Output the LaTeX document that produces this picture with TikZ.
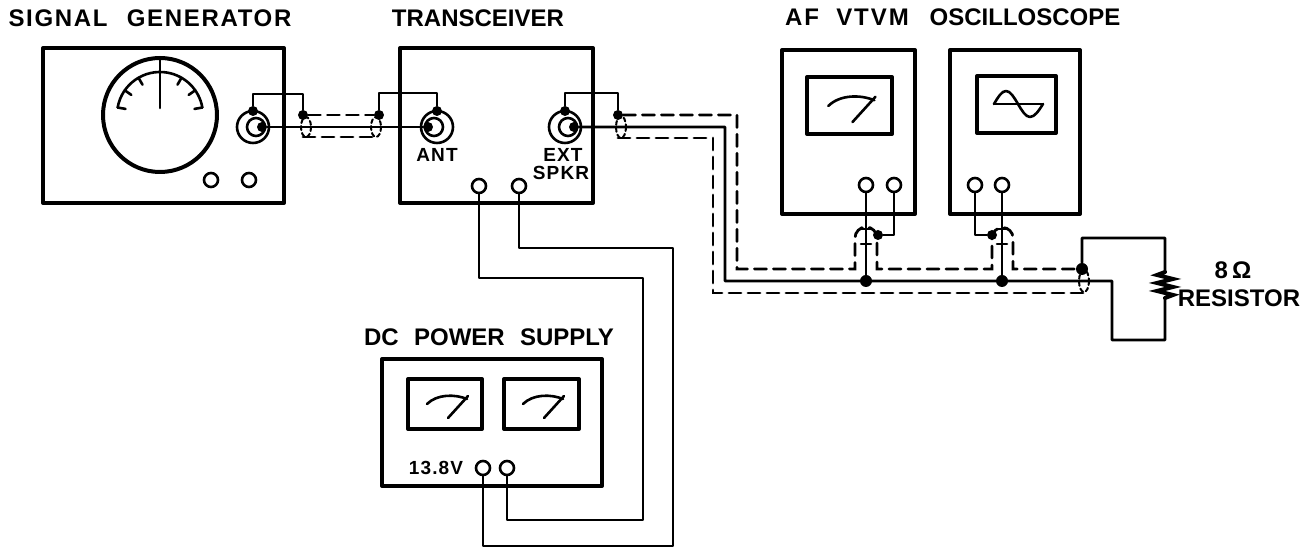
\documentclass[tikz,border=0pt]{standalone}
\usepackage{fontspec}
\setmainfont{Liberation Sans}
\newfontfamily\titlefont{Liberation Sans}[WordSpace=2.3]
\newfontfamily\widefont{Liberation Sans}[WordSpace=2.0, LetterSpace=8]
\newfontfamily\sgfont{Liberation Sans}[WordSpace=2.3, LetterSpace=7]
\newfontfamily\smallfont{Liberation Sans}[LetterSpace=6]
\usepackage{tikz}
\usetikzlibrary{calc}
\tikzset{
  unit/.style={line width=2pt, line join=round},
  wire/.style={line width=1.3pt, line join=round},
  shield/.style={line width=1.4pt, dash pattern=on 6pt off 3.5pt},
  coaxend/.style={line width=1pt, dash pattern=on 2pt off 1.5pt},
  term/.style={circle, draw, line width=1.3pt, minimum size=7pt, inner sep=0pt},
  dot/.style={circle, fill, minimum size=5pt, inner sep=0pt},
  title/.style={font=\fontsize{12}{14}\titlefont\bfseries, inner sep=0pt},
  small/.style={font=\fontsize{9.5}{11}\smallfont\bfseries, inner sep=0pt}
}
\newcommand{\CoaxJack}[3]{%
  % #1 = name, #2 = centre, #3 = 1 (pin right) or -1 (pin left)
  \draw[wire] (#2) circle[radius=16];
  \draw[wire] ($(#2)+({#3*3},0)$) circle[radius=9];
  \node[dot] (#1Pin) at ($(#2)+({#3*9},0)$) {};
  \node[dot] (#1Gnd) at ($(#2)+(0,-16)$) {};
}
\newcommand{\MeterFace}[2][1]{%
  % #1 = scale, #2 = centre of the window
  \begin{scope}[shift={(#2)}, scale=#1]
    \draw[wire] (-18,0) .. controls (-8,-10) and (10,-10) .. (22,-5);
    \draw[wire] (3,14) -- (23,-8);
  \end{scope}
}
\begin{document}
\begin{tikzpicture}[x=0.5pt, y=-0.5pt, line cap=round]
  \useasboundingbox (0,0) rectangle (1314,549);

  % signal generator
  \draw[unit] (43,48) rectangle (284,203);
  \draw[unit] (160,115) circle[radius=57];
  \draw[wire] ($(160,115)+(190:43)$) arc[start angle=190, end angle=350, radius=43];
  \foreach \a in {190,215,240,300,325,350}
    \draw[wire] ($(160,115)+(\a:43)$) -- ($(160,115)+(\a:35)$);
  \draw[wire] (160,58) -- (160,108);
  \node[term] (sgK1) at (211,180) {};
  \node[term] (sgK2) at (249,180) {};
  \coordinate (sgJack) at (253,127);
  \CoaxJack{sg}{sgJack}{1}

  % transceiver
  \draw[unit] (400,48) rectangle (593,203);
  \coordinate (antJack) at (437,127);
  \coordinate (spkJack) at (565,127);
  \CoaxJack{ant}{antJack}{-1}
  \CoaxJack{spk}{spkJack}{1}
  \node[term] (xcvT1) at (479,186) {};
  \node[term] (xcvT2) at (519,186) {};

  % dc power supply
  \draw[unit] (382,359) rectangle (602,486);
  \draw[unit] (408,379) rectangle (482,429);
  \draw[unit] (504,379) rectangle (579,429);
  \MeterFace{445,404}
  \MeterFace{541,404}
  \node[term] (psuT1) at (483,468) {};
  \node[term] (psuT2) at (507,468) {};

  % af vtvm
  \draw[unit] (782,50) rectangle (915,214);
  \draw[unit] (807,77) rectangle (892,134);
  \MeterFace[1.15]{849,106}
  \node[term] (vtT1) at (866,185) {};
  \node[term] (vtT2) at (894,185) {};

  % oscilloscope
  \draw[unit] (950,50) rectangle (1080,214);
  \draw[unit] (977,76) rectangle (1056,133);
  \draw[wire] (994,104) -- (1043,104);
  \draw[wire] (994,104) sin (1006,91) cos (1018,104) sin (1030,117) cos (1043,104);
  \node[term] (scT1) at (975,185) {};
  \node[term] (scT2) at (1002,185) {};

  % shield taps and junctions
  \node[dot] (sgShd) at (303,115) {};
  \node[dot] (antShd) at (379,115) {};
  \node[dot] (spkShd) at (618,115) {};
  \node[dot] (vtShd) at (878,235) {};
  \node[dot] (scShd) at (992,235) {};
  \node[dot, minimum size=6pt] (vtJn) at (866,281) {};
  \node[dot, minimum size=6pt] (scJn) at (1002,281) {};
  \node[dot, minimum size=6pt] (rShd) at (1082,269) {};

  % rf cable
  \draw[wire] (sgGnd) -- ++(0,-17) -| (sgShd);
  \draw[wire] (antGnd) -- ++(0,-18) -| (antShd);
  \draw[wire] (sgPin) -- (antPin);
  \draw[shield] (sgShd) -- (antShd);
  \draw[shield] (303,137) -- (379,137);
  \draw[coaxend] (306,127) ellipse[x radius=5, y radius=10];
  \draw[coaxend] (376,127) ellipse[x radius=5, y radius=10];

  % audio cable
  \draw[wire] (spkGnd) -- ++(0,-18) -| (spkShd);
  \coordinate (rBot) at (1165,340);
  \coordinate (rTop) at (1165,238);
  \draw[wire] (spkPin) -- (725,127) -- (725,281) -- (1112,281) -- (1112,340) -- (rBot)
    -- (1165,298) -- (1173,295) -- (1157,291) -- (1173,287) -- (1157,283)
    -- (1173,279) -- (1157,275) -- (1165,272) -- (rTop) -- (1082,238) -- (rShd);
  \draw[line width=2pt] (1165,298) -- (1173,295) -- (1157,291) -- (1173,287) -- (1157,283)
    -- (1173,279) -- (1157,275) -- (1165,272);
  \draw[shield] (spkShd) -- (737,115) -- (737,269) -- (855,269) -- (855,238)
    arc[start angle=180, end angle=360, radius=11] -- (877,269) -- (992,269) -- (992,238)
    arc[start angle=180, end angle=360, radius=10.5] -- (1013,269) -- (rShd);
  \draw[shield] (618,138) -- (713,138) -- (713,293) -- (1086,293);
  \draw[coaxend] (621,127) ellipse[x radius=5, y radius=11];
  \draw[coaxend] (1084,281) ellipse[x radius=5, y radius=11];
  \draw[wire] (861,229) -- (871,229) (861,244) -- (871,244);
  \draw[wire] (997,229) -- (1007,229) (997,244) -- (1007,244);

  % meter leads
  \draw[wire] (vtT1.south) -- (vtJn);
  \draw[wire] (vtT2.south) |- (vtShd);
  \draw[wire] (scT1.south) |- (scShd);
  \draw[wire] (scT2.south) -- (scJn);

  % dc leads
  \draw[wire] (xcvT1.south) |- (643,278) -- (643,520) -| (psuT2.south);
  \draw[wire] (xcvT2.south) |- (673,248) -- (673,546) -| (psuT1.south);

  % labels
  \node[title, font=\fontsize{12}{14}\sgfont\bfseries] (sgTitle) at (150,18) {SIGNAL GENERATOR};
  \node[title] (xcvTitle) at (478,18) {TRANSCEIVER};
  \node[title, font=\fontsize{12}{14}\widefont\bfseries] (vtTitle) at (847,17) {AF VTVM};
  \node[title] (scTitle) at (1025,17) {OSCILLOSCOPE};
  \node[title] (psuTitle) at (489,337) {DC POWER SUPPLY};
  \node[small] (antLbl) at (437,155) {ANT};
  \node[small] (extLbl) at (563,155) {EXT};
  \node[small] (spkLbl) at (561,173) {SPKR};
  \node[small] (voltLbl) at (436,468) {13.8V};
  \node[title] (ohmLbl) at (1233,270) {8\,Ω};
  \node[title] (resLbl) at (1239,298) {RESISTOR};
\end{tikzpicture}
\end{document}
